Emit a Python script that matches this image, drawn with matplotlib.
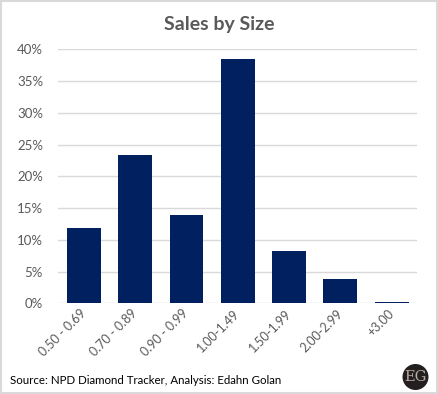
import matplotlib
matplotlib.use("Agg")
import matplotlib.pyplot as plt
from matplotlib.patches import Circle, Rectangle
from matplotlib.ticker import PercentFormatter

categories = ["0.50 - 0.69", "0.70 - 0.89", "0.90 - 0.99", "1.00-1.49", "1.50-1.99", "2.00-2.99", "+3.00"]
sales_share = [0.118, 0.233, 0.139, 0.384, 0.082, 0.038, 0.002]
y_ticks = [0.0, 0.05, 0.10, 0.15, 0.20, 0.25, 0.30, 0.35, 0.40]

title = "Sales by Size"
source = "Source: NPD Diamond Tracker, Analysis: Edahn Golan"

plt.rcParams['font.family'] = ['Lato', 'DejaVu Sans']

fig = plt.figure(figsize=(4.38, 3.94), dpi=100)
fig.patch.set_facecolor("white")
fig.add_artist(Rectangle((0.002, 0.002), 0.996, 0.996, transform=fig.transFigure,
                         fill=False, edgecolor="#d9d9d9", linewidth=1.5))

ax = fig.add_axes([0.1331, 0.2302, 0.8196, 0.6447])
x = range(len(categories))
ax.bar(x, sales_share, width=0.66, color="#002060", zorder=3)
ax.set_xlim(-0.5, len(categories) - 0.5)
ax.set_ylim(0, 0.40)
ax.set_yticks(y_ticks)
ax.yaxis.set_major_formatter(PercentFormatter(1.0, decimals=0))
ax.grid(axis="y", color="#d9d9d9", linewidth=1.0, zorder=0)
for s in ax.spines.values():
    s.set_visible(False)
ax.tick_params(axis="y", length=0, pad=11, labelsize=9.5, labelcolor="#595959")
ax.tick_params(axis="x", length=0, pad=6, labelsize=9, labelcolor="#595959")
ax.set_xticks(list(x))
ax.set_xticklabels(categories, rotation=45, ha="right", va="center", rotation_mode="anchor")

fig.text(0.5, 0.938, title, ha="center", va="center", fontsize=14, fontweight="bold", color="#595959")
fig.text(0.023, 0.035, source, ha="left", va="center", fontsize=8.3, color="black")

logo = Circle((4.155, 0.17), 0.13, transform=fig.dpi_scale_trans, facecolor="#231f20",
              edgecolor="none")
fig.add_artist(logo)
fig.text(4.155 / 4.38, 0.17 / 3.94, "EG", ha="center", va="center", fontsize=10.5,
         family=["DejaVu Serif"], color="#b8aca0")

fig.savefig("out.png", dpi=100)
